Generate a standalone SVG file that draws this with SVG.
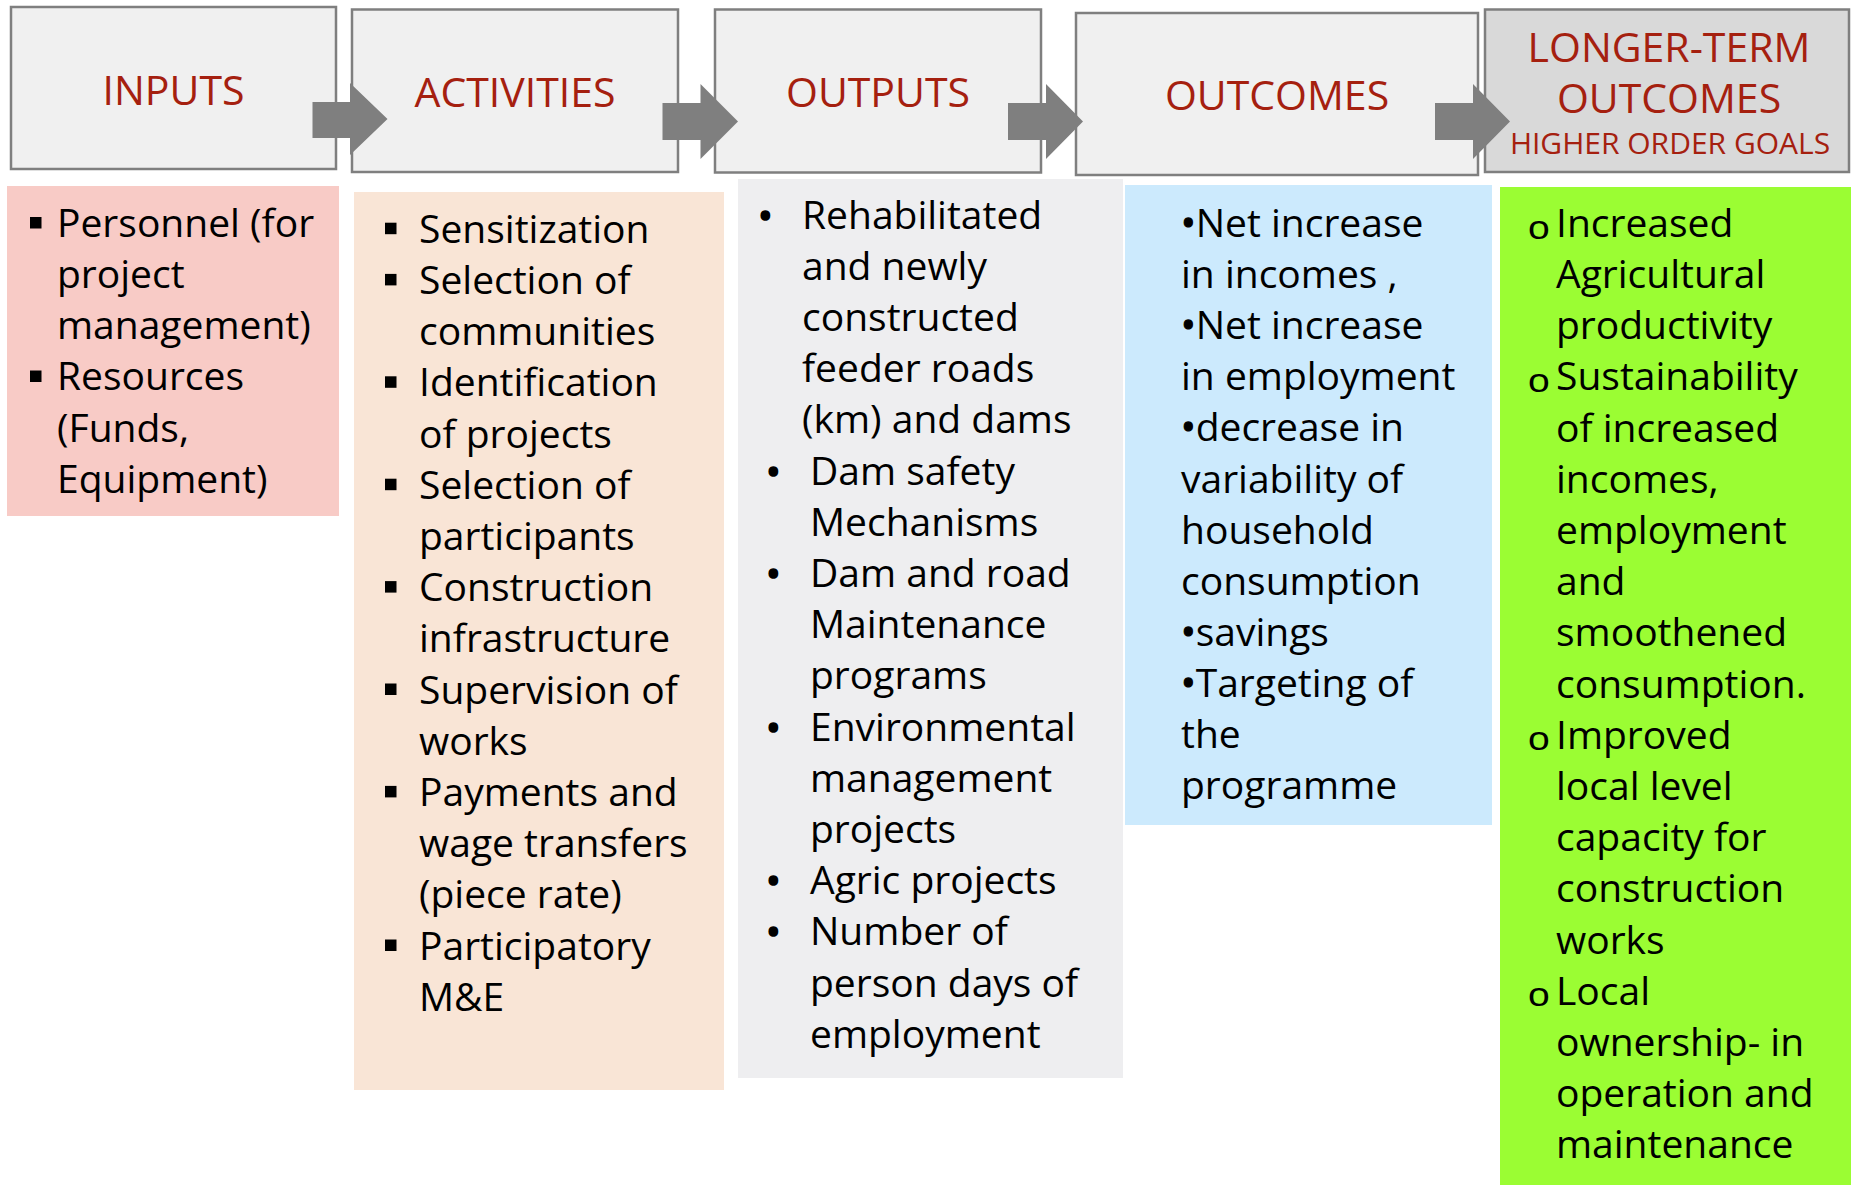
<svg xmlns="http://www.w3.org/2000/svg" width="1851" height="1185" viewBox="0 0 1851 1185">
<style>
.hbox{fill:#f0f0f0;stroke:#7f7f7f;stroke-width:2.5}
.hbox2{fill:#d9d9d9;stroke:#7f7f7f;stroke-width:2.5}
.ht{font-family:"Open Sans","Noto Sans",sans-serif;font-size:41px;fill:#a5200f;text-anchor:middle}
.hs{font-family:"Open Sans","Noto Sans",sans-serif;font-size:30px;fill:#a5200f;text-anchor:middle}
.bt{font-family:"Open Sans","Noto Sans",sans-serif;font-size:39px;fill:#000}
.dot{font-family:"Open Sans","Noto Sans",sans-serif;font-size:39px;fill:#000;stroke:#000;stroke-width:1.6}
.idot{stroke:#000;stroke-width:1.2}
.ring{font-family:"Liberation Sans",Arial,sans-serif;font-size:34px;fill:#000}
.sq{fill:#000}
.arrow{fill:#7f7f7f}
</style>
<rect width="1851" height="1185" fill="#ffffff"/>

<g id="inputs-head">
<rect class="hbox" x="11" y="7" width="325" height="162"/>
<text class="ht" x="173.5" y="105">INPUTS</text>
</g>
<g id="activities-head">
<rect class="hbox" x="352" y="9.5" width="326" height="162.5"/>
<text class="ht" x="515" y="107">ACTIVITIES</text>
</g>
<g id="outputs-head">
<rect class="hbox" x="715" y="9.5" width="326" height="163"/>
<text class="ht" x="878" y="107">OUTPUTS</text>
</g>
<g id="outcomes-head">
<rect class="hbox" x="1076" y="13" width="402" height="162"/>
<text class="ht" x="1277" y="110">OUTCOMES</text>
</g>
<g id="longterm-head">
<rect class="hbox2" x="1485" y="9.5" width="364" height="162.5"/>
<text class="ht" x="1669" y="62">LONGER-TERM</text>
<text class="ht" x="1669" y="113">OUTCOMES</text>
<text class="hs" x="1670" y="154">HIGHER ORDER GOALS</text>
</g>

<g id="connectors">
<polygon class="arrow" points="312.5,102 350,102 350,83 387.5,119 350,155 350,138 312.5,138"/>
<polygon class="arrow" points="662.5,103 700.5,103 700.5,84 738,121.5 700.5,159 700.5,140 662.5,140"/>
<polygon class="arrow" points="1008,103 1046,103 1046,84 1083,121.5 1046,159 1046,140 1008,140"/>
<polygon class="arrow" points="1435,103 1473,103 1473,84 1510,121.5 1473,159 1473,140 1435,140"/>
</g>

<g id="inputs-list">
<rect x="7" y="186" width="332" height="330" fill="#f8cbc6"/>
<rect class="sq" x="30" y="217" width="11.5" height="11.5"/>
<rect class="sq" x="30" y="370.5" width="11.5" height="11.5"/>
<text class="bt" x="57" y="236.7">Personnel (for</text>
<text class="bt" x="57" y="287.9">project</text>
<text class="bt" x="57" y="339.1">management)</text>
<text class="bt" x="57" y="390.3">Resources</text>
<text class="bt" x="57" y="441.5">(Funds,</text>
<text class="bt" x="57" y="492.7">Equipment)</text>
</g>

<g id="activities-list">
<rect x="354" y="192" width="370" height="898" fill="#f9e5d6"/>
<rect class="sq" x="385" y="222.7" width="11.5" height="11.5"/>
<rect class="sq" x="385" y="273.9" width="11.5" height="11.5"/>
<rect class="sq" x="385" y="376.3" width="11.5" height="11.5"/>
<rect class="sq" x="385" y="478.7" width="11.5" height="11.5"/>
<rect class="sq" x="385" y="581.1" width="11.5" height="11.5"/>
<rect class="sq" x="385" y="683.5" width="11.5" height="11.5"/>
<rect class="sq" x="385" y="785.9" width="11.5" height="11.5"/>
<rect class="sq" x="385" y="939.5" width="11.5" height="11.5"/>
<text class="bt" x="419" y="242.7">Sensitization</text>
<text class="bt" x="419" y="293.9">Selection of</text>
<text class="bt" x="419" y="345.1">communities</text>
<text class="bt" x="419" y="396.3">Identification</text>
<text class="bt" x="419" y="447.5">of projects</text>
<text class="bt" x="419" y="498.7">Selection of</text>
<text class="bt" x="419" y="549.9">participants</text>
<text class="bt" x="419" y="601.1">Construction</text>
<text class="bt" x="419" y="652.3">infrastructure</text>
<text class="bt" x="419" y="703.5">Supervision of</text>
<text class="bt" x="419" y="754.7">works</text>
<text class="bt" x="419" y="805.9">Payments and</text>
<text class="bt" x="419" y="857.1">wage transfers</text>
<text class="bt" x="419" y="908.3">(piece rate)</text>
<text class="bt" x="419" y="959.5">Participatory</text>
<text class="bt" x="419" y="1010.7">M&amp;E</text>
</g>

<g id="outputs-list">
<rect x="738" y="179" width="385" height="899" fill="#eeeef0"/>
<text class="dot" x="758" y="229.5">•</text>
<text class="dot" x="766" y="485.5">•</text>
<text class="dot" x="766" y="587.9">•</text>
<text class="dot" x="766" y="741.5">•</text>
<text class="dot" x="766" y="895.1">•</text>
<text class="dot" x="766" y="946.3">•</text>
<text class="bt" x="802" y="228.5">Rehabilitated</text>
<text class="bt" x="802" y="279.7">and newly</text>
<text class="bt" x="802" y="330.9">constructed</text>
<text class="bt" x="802" y="382.1">feeder roads</text>
<text class="bt" x="802" y="433.3">(km) and dams</text>
<text class="bt" x="810" y="484.5">Dam safety</text>
<text class="bt" x="810" y="535.7">Mechanisms</text>
<text class="bt" x="810" y="586.9">Dam and road</text>
<text class="bt" x="810" y="638.1">Maintenance</text>
<text class="bt" x="810" y="689.3">programs</text>
<text class="bt" x="810" y="740.5">Environmental</text>
<text class="bt" x="810" y="791.7">management</text>
<text class="bt" x="810" y="842.9">projects</text>
<text class="bt" x="810" y="894.1">Agric projects</text>
<text class="bt" x="810" y="945.3">Number of</text>
<text class="bt" x="810" y="996.5">person days of</text>
<text class="bt" x="810" y="1047.7">employment</text>
</g>

<g id="outcomes-list">
<rect x="1125" y="185" width="367" height="640" fill="#cceafd"/>
<text class="bt" x="1181" y="237"><tspan class="idot">•</tspan>Net increase</text>
<text class="bt" x="1181" y="288.1">in incomes ,</text>
<text class="bt" x="1181" y="339.2"><tspan class="idot">•</tspan>Net increase</text>
<text class="bt" x="1181" y="390.3">in employment</text>
<text class="bt" x="1181" y="441.4"><tspan class="idot">•</tspan>decrease in</text>
<text class="bt" x="1181" y="492.5">variability of</text>
<text class="bt" x="1181" y="543.6">household</text>
<text class="bt" x="1181" y="594.7">consumption</text>
<text class="bt" x="1181" y="645.8"><tspan class="idot">•</tspan>savings</text>
<text class="bt" x="1181" y="696.9"><tspan class="idot">•</tspan>Targeting of</text>
<text class="bt" x="1181" y="748">the</text>
<text class="bt" x="1181" y="799.1">programme</text>
</g>

<g id="longterm-list">
<rect x="1500" y="187" width="351" height="998" fill="#9bfd33"/>
<text class="ring" transform="translate(1528,238.5) scale(1.15,1)">o</text>
<text class="ring" transform="translate(1528,392.1) scale(1.15,1)">o</text>
<text class="ring" transform="translate(1528,750.2) scale(1.15,1)">o</text>
<text class="ring" transform="translate(1528,1006.2) scale(1.15,1)">o</text>
<text class="bt" x="1556" y="236.7">Increased</text>
<text class="bt" x="1556" y="287.9">Agricultural</text>
<text class="bt" x="1556" y="339.1">productivity</text>
<text class="bt" x="1556" y="390.3">Sustainability</text>
<text class="bt" x="1556" y="441.5">of increased</text>
<text class="bt" x="1556" y="492.7">incomes,</text>
<text class="bt" x="1556" y="543.9">employment</text>
<text class="bt" x="1556" y="595.1">and</text>
<text class="bt" x="1556" y="646.3">smoothened</text>
<text class="bt" x="1556" y="697.5">consumption.</text>
<text class="bt" x="1556" y="748.7">Improved</text>
<text class="bt" x="1556" y="799.9">local level</text>
<text class="bt" x="1556" y="851.1">capacity for</text>
<text class="bt" x="1556" y="902.3">construction</text>
<text class="bt" x="1556" y="953.5">works</text>
<text class="bt" x="1556" y="1004.7">Local</text>
<text class="bt" x="1556" y="1055.9">ownership- in</text>
<text class="bt" x="1556" y="1107.1">operation and</text>
<text class="bt" x="1556" y="1158.3">maintenance</text>
</g>
</svg>
